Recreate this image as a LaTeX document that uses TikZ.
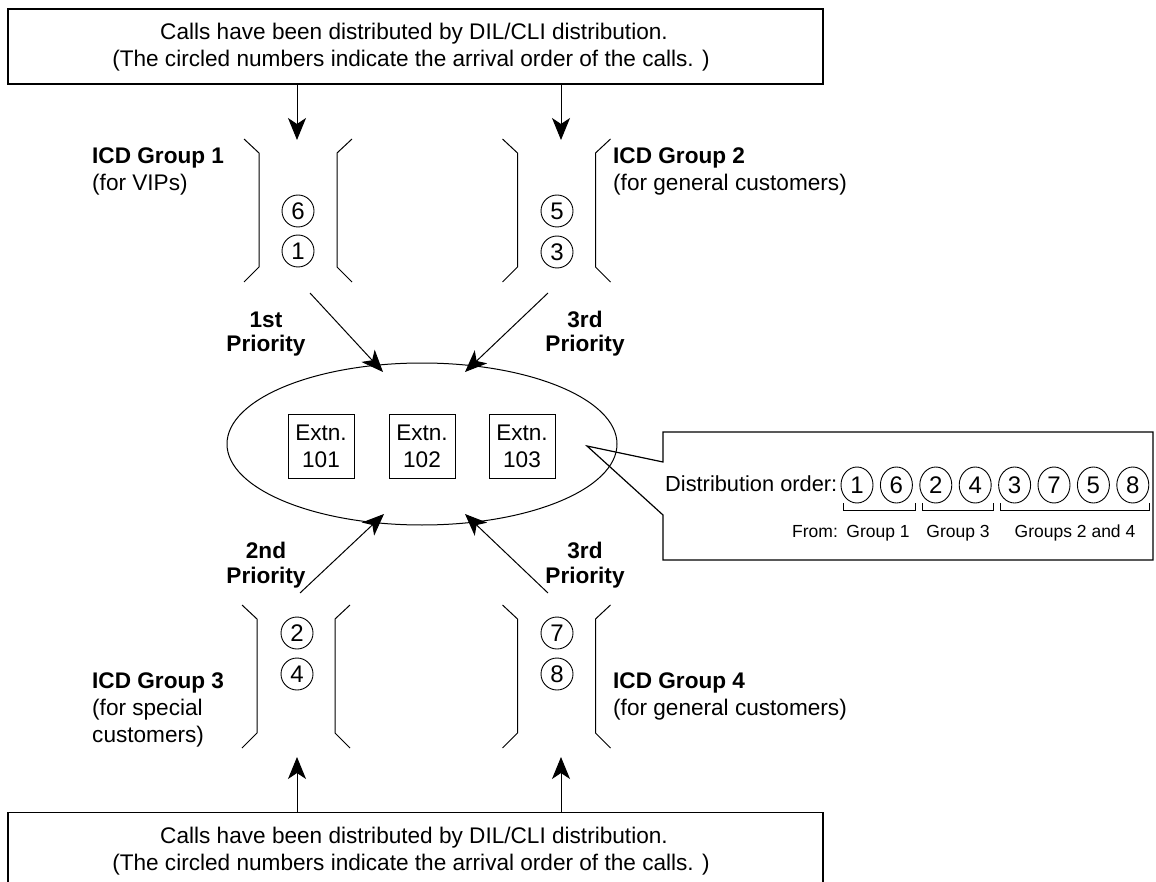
\documentclass[tikz,border=0pt]{standalone}
\usepackage{fontspec}
\setmainfont{Liberation Sans}
\usetikzlibrary{arrows.meta,shapes.geometric}
\newcommand\icdqueue[2]{%
  \draw[qline] ({#1-54},#2) -- ({#1-39},{#2+14}) -- ({#1-39},{#2+128}) -- ({#1-54},{#2+143});
  \draw[qline] ({#1+54},#2) -- ({#1+39},{#2+14}) -- ({#1+39},{#2+128}) -- ({#1+54},{#2+143});}
\begin{document}
\begin{tikzpicture}[x=1pt,y=-1pt,
  txt/.style={inner sep=0pt,font=\fontsize{22.6}{27}\selectfont},
  btxt/.style={inner sep=0pt,font=\fontsize{22.6}{27}\selectfont\bfseries},
  stxt/.style={inner sep=0pt,font=\fontsize{17.5}{21}\selectfont},
  boxline/.style={draw,line width=1.2pt},
  qline/.style={line width=1pt},
  qc/.style={circle,draw,line width=0.9pt,minimum size=32pt,inner sep=0pt,font=\fontsize{24}{24}\selectfont},
  oc/.style={ellipse,draw,line width=0.9pt,minimum width=32pt,minimum height=36pt,inner sep=0pt,font=\fontsize{24}{24}\selectfont},
  arr/.style={line width=1pt,-{Stealth[length=22pt,width=18pt,inset=6pt]}},
  extn/.style={draw,line width=1pt,minimum width=66pt,minimum height=64pt,inner sep=0pt,align=center,font=\fontsize{22.6}{27}\selectfont}
]
\path[use as bounding box] (0,0) rectangle (1156,882);
\clip (0,0) rectangle (1156,882);
\fill[white] (0,0) rectangle (1156,882);

% top box
\node[boxline,minimum width=815pt,minimum height=75pt,inner sep=0pt] (topbox) at (415.5,46.5) {};
\node[txt,anchor=base] (top1) at (414,40) {Calls have been distributed by DIL/CLI distribution.};
\node[txt,anchor=base] (top2) at (411,67) {(The circled numbers indicate the arrival order of the calls. )};

% bottom box (cut off at page bottom)
\node[boxline,minimum width=815pt,minimum height=100pt,inner sep=0pt,anchor=north] (botbox) at (415.5,812) {};
\node[txt,anchor=base] (bot1) at (414,843) {Calls have been distributed by DIL/CLI distribution.};
\node[txt,anchor=base] (bot2) at (411,870) {(The circled numbers indicate the arrival order of the calls. )};

% queues
\icdqueue{298}{139}
\icdqueue{556.5}{139}
\icdqueue{296}{605}
\icdqueue{556.5}{605}

\node[qc] (q6) at (298,211) {6};
\node[qc] (q1) at (298,251) {1};
\node[qc] (q5) at (557,211) {5};
\node[qc] (q3) at (557,252) {3};
\node[qc] (q2) at (297,633) {2};
\node[qc] (q4) at (297,674) {4};
\node[qc] (q7) at (557,633) {7};
\node[qc] (q8) at (557,674) {8};

% group labels
\node[btxt,anchor=base west] (g1a) at (92,164) {ICD Group 1};
\node[txt,anchor=base west] (g1b) at (92,191) {(for VIPs)};
\node[btxt,anchor=base west] (g2a) at (613,164) {ICD Group 2};
\node[txt,anchor=base west] (g2b) at (613,191) {(for general customers)};
\node[btxt,anchor=base west] (g3a) at (92,688) {ICD Group 3};
\node[txt,anchor=base west] (g3b) at (92,715) {(for special};
\node[txt,anchor=base west] (g3c) at (92,742) {customers)};
\node[btxt,anchor=base west] (g4a) at (613,688) {ICD Group 4};
\node[txt,anchor=base west] (g4b) at (613,715) {(for general customers)};

% priority labels
\node[btxt,anchor=base] (pr1a) at (266,327) {1st};
\node[btxt,anchor=base] (pr1b) at (266,352) {Priority};
\node[btxt,anchor=base] (pr2a) at (585,327) {3rd};
\node[btxt,anchor=base] (pr2b) at (585,352) {Priority};
\node[btxt,anchor=base] (pr3a) at (266,558) {2nd};
\node[btxt,anchor=base] (pr3b) at (266,583) {Priority};
\node[btxt,anchor=base] (pr4a) at (585,558) {3rd};
\node[btxt,anchor=base] (pr4b) at (585,583) {Priority};

% extension pool
\node[ellipse,draw,line width=1pt,minimum width=390pt,minimum height=162pt,inner sep=0pt] (pool) at (422,444) {};
\node[extn] (e1) at (321,446) {Extn.\\101};
\node[extn] (e2) at (422,446) {Extn.\\102};
\node[extn] (e3) at (522,446) {Extn.\\103};

% coordinates for connectors
\coordinate (in1) at (297,140);
\coordinate (in2) at (561,140);
\coordinate (in3) at (297,757);
\coordinate (in4) at (561,757);
\coordinate (out1) at (310,293);
\coordinate (out2) at (548,293);
\coordinate (out3) at (300,593);
\coordinate (out4) at (548,593);
\coordinate (t1) at (383,372);
\coordinate (t2) at (465,372);
\coordinate (t3) at (384,514);
\coordinate (t4) at (465,514);

\draw[arr] (topbox.south -| in1) -- (in1);
\draw[arr] (topbox.south -| in2) -- (in2);
\draw[arr] (botbox.north -| in3) -- (in3);
\draw[arr] (botbox.north -| in4) -- (in4);
\draw[arr] (out1) -- (t1);
\draw[arr] (out2) -- (t2);
\draw[arr] (out3) -- (t3);
\draw[arr] (out4) -- (t4);

% callout
\coordinate (ctip) at (587,446);
\draw[line width=1.2pt,line join=miter] (663,515) -- (663,560) -- (1153,560) -- (1153,432) -- (663,432) -- (663,462) -- (ctip) -- cycle;
\node[inner sep=0pt,font=\fontsize{21.8}{27}\selectfont,anchor=base west] (dord) at (665,491) {Distribution order:};
\foreach \n/\d in {1/1,2/6,3/2,4/4,5/3,6/7,7/5,8/8}{
  \node[oc] (o\n) at ({857+39.4*(\n-1)},485) {\d};
}
\draw[line width=1pt] (843,503) -- (843,510) -- (915,510) -- (915,503);
\draw[line width=1pt] (922,503) -- (922,510) -- (993,510) -- (993,503);
\draw[line width=1pt] (1000,503) -- (1000,510) -- (1149,510) -- (1149,503);
\node[stxt,anchor=base west] (from) at (792,537) {From:};
\node[stxt,anchor=base] (fg1) at (878,537) {Group 1};
\node[stxt,anchor=base] (fg3) at (958,537) {Group 3};
\node[stxt,anchor=base] (fg24) at (1075,537) {Groups 2 and 4};
\end{tikzpicture}
\end{document}
